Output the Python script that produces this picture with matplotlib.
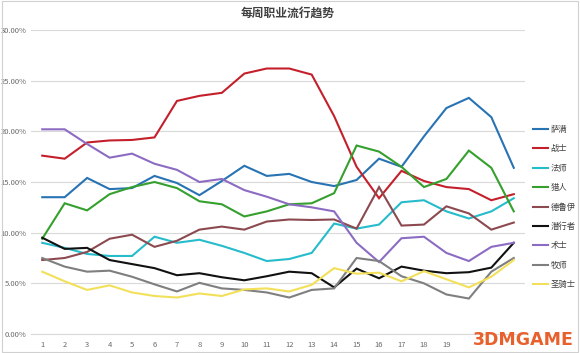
import numpy as np
import matplotlib
matplotlib.use("Agg")
import matplotlib.pyplot as plt
from matplotlib.patches import Rectangle
from matplotlib.ticker import FuncFormatter

plt.rcParams['font.family'] = ['Noto Sans CJK SC', 'DejaVu Sans']

# weeks 1..22 (labels 20-22 hidden by watermark in the original)
weeks = list(range(1, 23))

# weekly share of each class, in percent
shaman  = [13.5, 13.5, 15.4, 14.3, 14.4, 15.6, 14.9, 13.7, 15.1, 16.6, 15.6,
           15.8, 15.0, 14.6, 15.2, 17.3, 16.5, 19.5, 22.3, 23.3, 21.4, 16.4]
warrior = [17.6, 17.3, 18.9, 19.1, 19.15, 19.4, 23.0, 23.5, 23.8, 25.7, 26.2,
           26.2, 25.6, 21.5, 16.5, 13.4, 16.1, 15.1, 14.5, 14.3, 13.2, 13.8]
mage    = [9.0, 8.5, 7.9, 7.7, 7.7, 9.6, 9.0, 9.3, 8.7, 8.0, 7.2,
           7.4, 8.0, 10.9, 10.4, 10.8, 13.0, 13.2, 12.1, 11.4, 12.1, 13.4]
hunter  = [9.4, 12.9, 12.2, 13.8, 14.5, 15.0, 14.4, 13.1, 12.8, 11.6, 12.1,
           12.8, 12.9, 13.9, 18.6, 18.0, 16.5, 14.5, 15.3, 18.1, 16.4, 12.1]
druid   = [7.3, 7.5, 8.1, 9.4, 9.8, 8.6, 9.2, 10.3, 10.6, 10.3, 11.1,
           11.3, 11.25, 11.3, 10.4, 14.5, 10.7, 10.8, 12.6, 11.9, 10.3, 11.0]
rogue   = [9.5, 8.4, 8.5, 7.3, 6.9, 6.5, 5.8, 6.0, 5.6, 5.3, 5.7,
           6.15, 6.0, 4.6, 6.45, 5.5, 6.65, 6.25, 6.0, 6.1, 6.55, 9.0]
warlock = [20.2, 20.2, 18.75, 17.4, 17.8, 16.8, 16.2, 15.0, 15.3, 14.2, 13.55,
           12.8, 12.5, 12.1, 9.0, 7.1, 9.45, 9.6, 8.0, 7.2, 8.6, 9.0]
priest  = [7.5, 6.65, 6.15, 6.25, 5.65, 4.9, 4.2, 5.05, 4.5, 4.35, 4.1,
           3.6, 4.35, 4.5, 7.5, 7.2, 5.7, 5.0, 3.9, 3.5, 6.15, 7.5]
paladin = [6.15, 5.2, 4.35, 4.8, 4.1, 3.75, 3.6, 4.0, 3.75, 4.4, 4.5,
           4.2, 4.85, 6.5, 5.95, 6.05, 5.2, 6.2, 5.4, 4.6, 5.65, 7.3]

names = ['萨满', '战士', '法师', '猎人', '德鲁伊', '潜行者', '术士', '牧师', '圣骑士']
series = [shaman, warrior, mage, hunter, druid, rogue, warlock, priest, paladin]
colors = ['#2873b3', '#c4202c', '#26bccb', '#35a02e', '#8c4a50',
          '#111111', '#8c6cc2', '#7f7f7f', '#f2e05a']

fig = plt.figure(figsize=(5.8, 3.53), dpi=100)
ax = fig.add_axes([31/580, 1 - 334/353, (525 - 31)/580, (334 - 30)/353])

for name, vals, c in zip(names, series, colors):
    ax.plot(weeks, np.array(vals) / 100, color=c, lw=1.5, label=name,
            solid_joinstyle='miter')

ax.set_xlim(0.5, 22.5)
ax.set_ylim(0, 0.30)
ax.set_yticks(np.arange(0, 0.301, 0.05))
ax.yaxis.set_major_formatter(FuncFormatter(lambda v, p: f'{v*100:.2f}%'))
ax.set_xticks(weeks[:19])
ax.grid(axis='y', color='#d9d9d9', lw=0.8)
ax.set_axisbelow(True)
for s in ['top', 'right', 'left']:
    ax.spines[s].set_visible(False)
ax.spines['bottom'].set_color('#d9d9d9')
ax.tick_params(length=0, labelsize=5.5, labelcolor='#6a6a6a')
ax.tick_params(axis='y', pad=3)
ax.tick_params(axis='x', pad=5)

fig.text(288/580, 1 - 14/353, '每周职业流行趋势', ha='center', va='center',
         fontsize=8.5, color='#404040', fontweight='bold')

ax.legend(loc='center left', bbox_to_anchor=(533/580, 1 - 207/353),
          bbox_transform=fig.transFigure, frameon=False, fontsize=6,
          handlelength=1.8, handletextpad=0.3, labelspacing=1.25,
          borderpad=0, borderaxespad=0, labelcolor='#404040')

# chart border and watermark
fig.patches.append(Rectangle((0.003, 0.003), 0.994, 0.994, transform=fig.transFigure,
                             fill=False, edgecolor='#d0d0d0', lw=0.8))
fig.text(574/580, 1 - 340/353, '3DMGAME', ha='right', va='center', fontsize=12.5,
         fontweight='bold', color='#e8602c', family='DejaVu Sans')

fig.savefig('out.png', dpi=100)
